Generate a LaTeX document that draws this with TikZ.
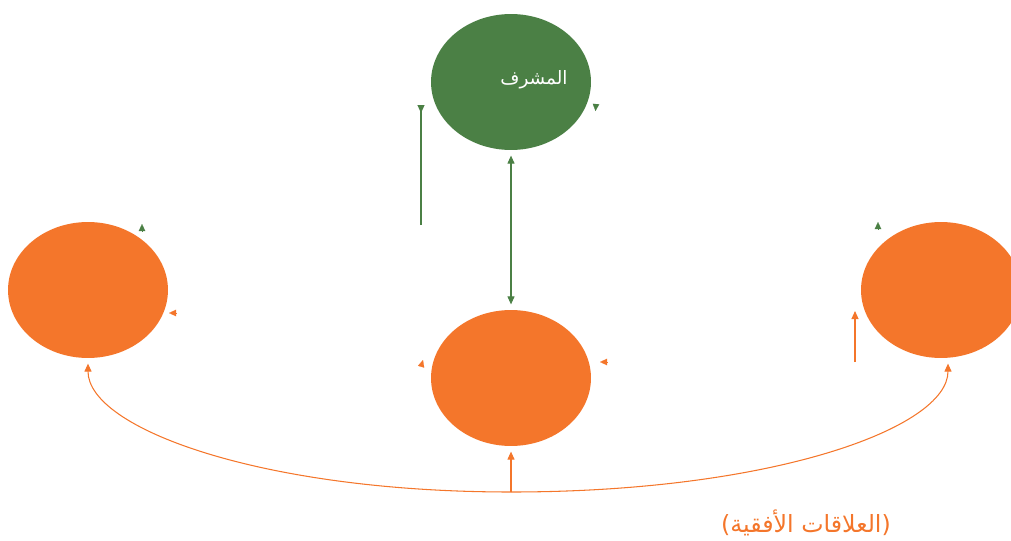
\documentclass[tikz,border=0pt]{standalone}
\usepackage{fontspec}
\usepackage{tikz}
\usetikzlibrary{arrows.meta,shapes.geometric}
\TeXXeTstate=1
\newfontfamily\arabicfont[Script=Arabic]{DejaVu Sans}
\definecolor{leaf}{HTML}{4B8045}
\definecolor{peach}{HTML}{F4762B}

\begin{document}
\begin{tikzpicture}[x=0.02cm,y=-0.02cm,>={Triangle[length=0.16cm,width=0.14cm]},
  blob/.style={ellipse,minimum width=3.2cm,minimum height=2.72cm,inner sep=0pt},
  link/.style={line width=0.6pt},
  stub/.style={-{Triangle[length=0.14cm,width=0.13cm]},line width=0.1pt}]
  \useasboundingbox (0,0) rectangle (1011,541);
  % supervisor and the three peers
  \node[blob,fill=leaf] (sup) at (511,82) {};
  \node[text=white,font=\arabicfont\fontsize{10.5}{12}\selectfont] (supname) at (534,80) {\beginR المشرف\endR};
  \node[blob,fill=peach] (peerL) at (88,290) {};
  \node[blob,fill=peach] (peerM) at (511,378) {};
  \node[blob,fill=peach] (peerR) at (941,290) {};
  % vertical link
  \draw[leaf,link,<->,shorten <=3pt,shorten >=3pt] (sup) -- (peerM);
  \coordinate (gA) at (421,225);
  \coordinate (gB) at (421,105);
  \draw[leaf,link,-{Triangle[reversed,length=0.16cm,width=0.14cm]}] (gA) -- (gB);
  \coordinate (oA) at (855,362);
  \coordinate (oB) at (855,311);
  \draw[peach,link,->] (oA) -- (oB);
  % horizontal links
  \coordinate (hub) at (511,492);
  \draw[peach,link,->,shorten >=3pt] (hub) .. controls +(-250,0) and +(0,70) .. (peerL.south);
  \draw[peach,link,->,shorten >=3pt] (hub) .. controls +(260,0) and +(0,70) .. ([xshift=0.14cm]peerR.south);
  \draw[peach,link,->,shorten >=3pt] (hub) -- (peerM.south);
  % loose tips
  \draw[leaf,stub] (596,104) -- ++(-0.5,7);
  \draw[leaf,stub] (142,231) -- ++(0,-7);
  \draw[leaf,stub] (878,229) -- ++(0,-7);
  \draw[peach,stub] (176,313) -- ++(-7,0);
  \draw[peach,stub] (421,367) -- ++(2,-7);
  \draw[peach,stub] (607,362) -- ++(-7,0);
  \node[text=peach,font=\arabicfont\fontsize{13.5}{16}\selectfont] (caption) at (806,523) {)\beginR العلاقات الأفقية\endR(};
\end{tikzpicture}
\end{document}
